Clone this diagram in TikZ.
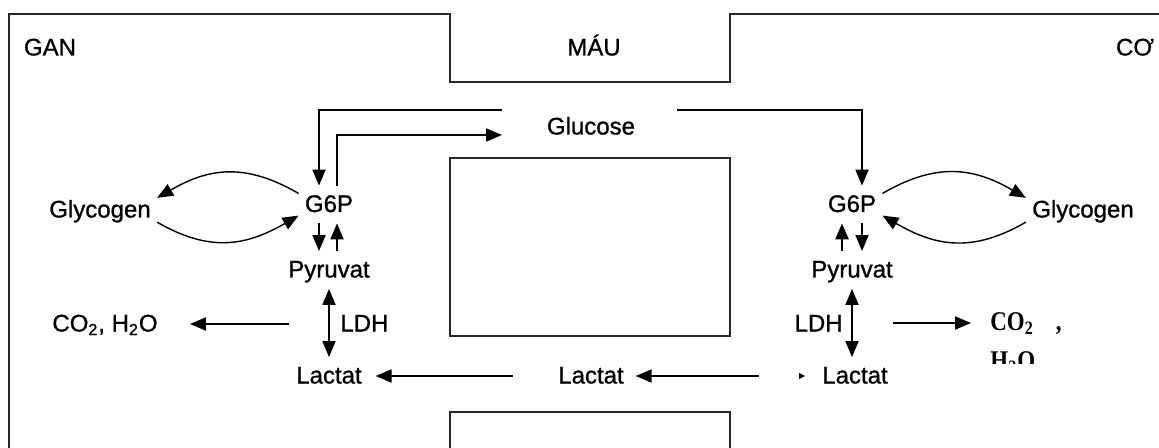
\documentclass[tikz,border=0pt]{standalone}
\usepackage{fontspec}
\setmainfont[FakeBold=1]{Liberation Sans}
\newfontfamily\cofont[FakeStretch=0.85]{Liberation Serif}
\usetikzlibrary{arrows.meta}
\begin{document}
\begin{tikzpicture}[x=0.5pt, y=-0.5pt, font=\fontsize{12}{14}\selectfont, >={Triangle[length=8pt,width=6.5pt]},
      lbl/.style={inner sep=3pt, text height=10pt, text depth=2.5pt},
      chem/.style={inner sep=3pt, anchor=base west, font=\cofont\bfseries\fontsize{13.5}{15}\selectfont},
      wall/.style={line width=1pt, black!85},
      arr/.style={->, line width=0.9pt},
      cyc/.style={->, line width=0.7pt, looseness=1.1}]
    \useasboundingbox (0,0) rectangle (1159,448);
    \draw[wall] (9,448) -- (9,14) -- (449.5,14) -- (449.5,82) -- (730,82) -- (730,14) -- (1159,14);
    \draw[wall] (449.5,157.6) rectangle (730,336);
    \draw[wall] (449.5,448) -- (449.5,411.6) -- (730,411.6) -- (730,448);
    \node[lbl] (gan) at (50,48) {GAN};
    \node[lbl] (mau) at (594,48) {MÁU};
    \node[lbl] (co) at (1135,48) {CƠ};
    \node[lbl] (glucose) at (591,127) {Glucose};
    \node[lbl] (g6pL) at (329,204.5) {G6P};
    \node[lbl] (glyL) at (100,210) {Glycogen};
    \node[lbl] (pyrL) at (329,270) {Pyruvat};
    \node[lbl] (lacL) at (329,376) {Lactat};
    \node[lbl, anchor=west] (ldhL) at (334,324) {LDH};
    \node[lbl] (co2L) at (105,324) {CO\textsubscript{2}, H\textsubscript{2}O};
    \node[lbl] (lacM) at (591,376) {Lactat};
    \node[lbl] (g6pR) at (852,204.5) {G6P};
    \node[lbl] (glyR) at (1083,210) {Glycogen};
    \node[lbl] (pyrR) at (852,270) {Pyruvat};
    \node[lbl] (lacR) at (855,376) {Lactat};
    \node[lbl, anchor=east] (ldhR) at (849,324) {LDH};
    \node[chem] (co2R) at (984,330.5) {CO\textsubscript{2}\hspace{11pt},};
    \begin{scope}
      \clip (960,340) rectangle (1080,363);
      \node[chem] (h2oR) at (984,369) {H\textsubscript{2}O};
    \end{scope}
    \coordinate (gluInL) at (502,110);
    \coordinate (gluOutL) at (502,135);
    \coordinate (gluInR) at (677,110);
    \coordinate (oxL) at (289,324);
    \coordinate (oxR) at (893,323);
    \draw[arr] (gluInL) -| ([xshift=-5pt]g6pL.north);
    \draw[arr] ([xshift=4pt]g6pL.north) |- (gluOutL);
    \draw[arr] (gluInR) -| ([xshift=5pt]g6pR.north);
    \draw[cyc] (g6pL.160) to[out=150, in=30] (glyL.12);
    \draw[cyc] (glyL.-12) to[out=-30, in=-150] (g6pL.-160);
    \draw[cyc] (g6pR.20) to[out=30, in=150] (glyR.168);
    \draw[cyc] (glyR.192) to[out=-150, in=-30] (g6pR.-20);
    \draw[arr] ([xshift=-5pt]g6pL.south) -- ([xshift=-5pt]pyrL.north);
    \draw[arr] ([xshift=4pt]pyrL.north) -- ([xshift=4pt]g6pL.south);
    \draw[arr] ([xshift=5pt]g6pR.south) -- ([xshift=5pt]pyrR.north);
    \draw[arr, line width=1.3pt] ([xshift=-5pt]pyrR.north) -- ([xshift=-5pt]g6pR.south);
    \draw[arr, <->] (pyrL.south) -- (lacL.north);
    \draw[arr, <->] (pyrR.south) -- (pyrR.south |- lacR.north);
    \draw[arr, shorten >=13pt] (oxL) -- (co2L);
    \draw[arr, shorten >=6.5pt] (oxR) -- (oxR -| co2R.west);
    \draw[arr, shorten <=19.5pt, shorten >=3.75pt] (lacM) -- (lacL);
    \draw[arr, shorten <=28.3pt, shorten >=2.75pt] (lacR) -- (lacM);
    \fill (799,373) -- (805,376) -- (799,379) -- cycle;
  \end{tikzpicture}
\end{document}
